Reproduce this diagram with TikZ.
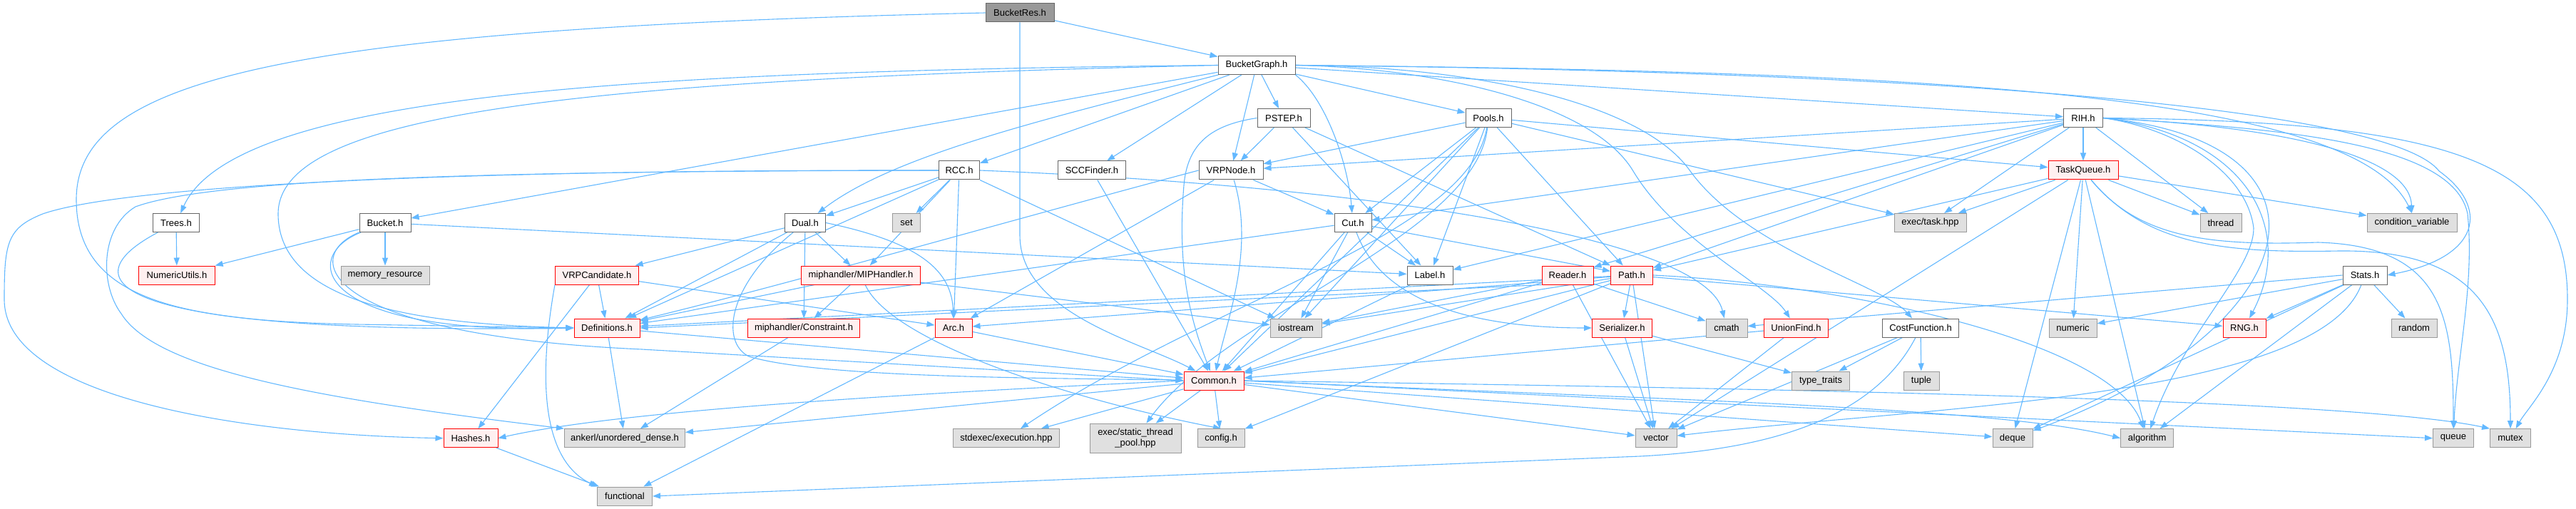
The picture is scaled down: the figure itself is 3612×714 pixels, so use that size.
\documentclass[tikz,border=0pt]{standalone}
\usepackage{fontspec}
\setmainfont{Liberation Sans}
\usetikzlibrary{arrows.meta}
\definecolor{edgec}{HTML}{63B8FF}
\definecolor{gfill}{HTML}{E0E0E0}
\definecolor{gborder}{HTML}{999999}
\definecolor{rfill}{HTML}{FFF0F0}
\definecolor{rborder}{HTML}{FF0000}
\definecolor{wborder}{HTML}{666666}
\definecolor{dfill}{HTML}{999999}
\newcommand{\nodefs}{\fontsize{13}{15}\selectfont}
\pgfdeclarelayer{bg}
\pgfsetlayers{bg,main}
\tikzset{
  base/.style={draw, minimum height=26pt, inner sep=0pt, font=\nodefs, line width=1pt},
  gn/.style={base, fill=gfill, draw=gborder},
  rn/.style={base, fill=rfill, draw=rborder},
  wn/.style={base, fill=white, draw=wborder},
  dn/.style={base, fill=dfill, draw=wborder},
  e/.style={draw=edgec, line width=1.1pt, -{Triangle[length=11pt,width=8pt]}}
}
\begin{document}
\begin{tikzpicture}[x=1pt,y=-1pt]
\path[use as bounding box] (0,0) rectangle (3612,714);
% rank 0-3
\node[dn, minimum width=96pt] (bres) at (1430,18) {BucketRes.h};
\node[wn, minimum width=108pt] (bgraph) at (1762,91.5) {BucketGraph.h};
\node[wn, minimum width=74pt] (pstep) at (1800,165.5) {PSTEP.h};
\node[wn, minimum width=64pt] (pools) at (2087,165.5) {Pools.h};
\node[wn, minimum width=55pt] (rih) at (2921,165.5) {RIH.h};
\node[wn, minimum width=57pt] (rcc) at (1345,239) {RCC.h};
\node[wn, minimum width=95pt] (scc) at (1531,239) {SCCFinder.h};
\node[wn, minimum width=90pt] (vrpnode) at (1726,239) {VRPNode.h};
\node[rn, minimum width=98pt] (taskq) at (2921,239) {TaskQueue.h};
% rank 4
\node[wn, minimum width=65pt] (trees) at (247,312.5) {Trees.h};
\node[wn, minimum width=72pt] (bucket) at (540,312.5) {Bucket.h};
\node[wn, minimum width=57pt] (dual) at (1129,312.5) {Dual.h};
\node[gn, minimum width=39pt] (set) at (1271,312.5) {set};
\node[wn, minimum width=52pt] (cut) at (1897,312.5) {Cut.h};
\node[gn, minimum width=101pt] (exectask) at (2706.5,312.5) {exec/task.hpp};
\node[gn, minimum width=58pt] (thread) at (3114,312.5) {thread};
\node[gn, minimum width=126pt] (condvar) at (3382,312.5) {condition\_variable};
% rank 5
\node[rn, minimum width=107pt] (numutils) at (248,386) {NumericUtils.h};
\node[gn, minimum width=124pt] (memres) at (540,386) {memory\_resource};
\node[rn, minimum width=117pt] (vrpcand) at (837,386) {VRPCandidate.h};
\node[rn, minimum width=167pt] (miph) at (1207,386) {miphandler/MIPHandler.h};
\node[wn, minimum width=64pt] (label) at (2005,386) {Label.h};
\node[rn, minimum width=72pt] (reader) at (2198,386) {Reader.h};
\node[rn, minimum width=59pt] (path) at (2288,386) {Path.h};
\node[wn, minimum width=62pt] (stats) at (3316,386) {Stats.h};
% rank 6
\node[rn, minimum width=92pt] (defs) at (851,460) {Definitions.h};
\node[rn, minimum width=157pt] (constr) at (1127,460) {miphandler/Constraint.h};
\node[rn, minimum width=52pt] (arc) at (1337,460) {Arc.h};
\node[gn, minimum width=72pt] (iostream) at (1817,460) {iostream};
\node[rn, minimum width=84pt] (serial) at (2274.5,460) {Serializer.h};
\node[gn, minimum width=58pt] (cmath) at (2421,460) {cmath};
\node[rn, minimum width=90pt] (unionf) at (2518.5,460) {UnionFind.h};
\node[wn, minimum width=107pt] (costf) at (2693,460) {CostFunction.h};
\node[gn, minimum width=67pt] (numeric) at (2906.5,460) {numeric};
\node[rn, minimum width=60pt] (rng) at (3147,460) {RNG.h};
\node[gn, minimum width=64pt] (random) at (3385,460) {random};
% rank 7
\node[rn, minimum width=84pt] (common) at (1702,534) {Common.h};
\node[gn, minimum width=81pt] (typetr) at (2553,534) {type\_traits};
\node[gn, minimum width=50pt] (tuple) at (2694,534) {tuple};
% rank 8
\node[rn, minimum width=76pt] (hashes) at (660,614.7) {Hashes.h};
\node[gn, minimum width=169pt] (ankerl) at (876,614.7) {ankerl/unordered\_dense.h};
\node[gn, minimum width=149pt] (stdexec) at (1411,614.7) {stdexec/execution.hpp};
\node[gn, minimum width=128pt, minimum height=41pt, align=center] (static) at (1592,614.7) {exec/static\_thread\\\_pool.hpp};
\node[gn, minimum width=66pt] (config) at (1712,614.7) {config.h};
\node[gn, minimum width=58pt] (vector) at (2322,614.7) {vector};
\node[gn, minimum width=56pt] (deque) at (2822,614.7) {deque};
\node[gn, minimum width=74pt] (algorithm) at (3010.6,614.7) {algorithm};
\node[gn, minimum width=57pt] (queue) at (3440,614.7) {queue};
\node[gn, minimum width=57pt] (mutex) at (3520,614.7) {mutex};
% rank 9
\node[gn, minimum width=77pt] (functional) at (876,696) {functional};

\begin{pgfonlayer}{bg}
% BucketRes
\draw[e] (bres) -- (bgraph);
\draw[e] (bres.west) .. controls (400,40) and (107,110) .. (107,280) .. controls (107,420) and (250,450) .. (500,455) -- (defs.west);
\draw[e] (bres.south) -- (1430,330) .. controls (1430,440) and (1600,480) .. (common);
% BucketGraph
\draw[e] (bgraph.west) .. controls (900,100) and (330,130) .. (trees);
\draw[e] (bgraph) -- (bucket);
\draw[e] (bgraph.west) .. controls (800,112) and (390,160) .. (390,300) .. controls (390,430) and (600,455) .. (defs.west);
\draw[e] (bgraph) -- (rcc);
\draw[e] (bgraph) .. controls (1450,170) and (1250,220) .. (dual);
\draw[e] (bgraph) -- (scc);
\draw[e] (bgraph) -- (vrpnode);
\draw[e] (bgraph) -- (pstep);
\draw[e] (bgraph) -- (pools);
\draw[e] (bgraph) -- (rih);
\draw[e] (bgraph.south east) .. controls (1860,140) and (1890,230) .. (cut);
\draw[e] (bgraph.east) .. controls (2700,100) and (3350,150) .. (3420,240) .. controls (3490,290) and (3480,360) .. (stats.east);
\draw[e] (bgraph.east) .. controls (2700,100) and (3300,130) .. (condvar.north);
\draw[e] (bgraph.east) .. controls (2000,95) and (2230,140) .. (2290,240) .. controls (2350,340) and (2480,400) .. (unionf);
\draw[e] (bgraph.east) .. controls (2050,92) and (2300,140) .. (2370,240) .. controls (2450,350) and (2640,400) .. (costf);
% PSTEP
\draw[e] (pstep) -- (vrpnode);
\draw[e] (pstep.west) .. controls (1700,175) and (1665,200) .. (1660,260) .. controls (1650,380) and (1670,450) .. (common);
\draw[e] (pstep) -- (label);
\draw[e] (pstep) -- (path);
% Pools
\draw[e] (pools) -- (vrpnode);
\draw[e] (pools) -- (taskq);
\draw[e] (pools) -- (label);
\draw[e] (pools) -- (path);
\draw[e] (pools) -- (cut);
\draw[e] (pools) -- (exectask);
\draw[e] (pools) -- (iostream);
\draw[e] (pools) .. controls (2060,330) and (1700,420) .. (stdexec);
\draw[e] (pools) .. controls (2070,330) and (1720,440) .. (static);
\draw[e] (pools) -- (common);
% RIH
\draw[e] (rih) -- (taskq);
\draw[e] (rih) -- (vrpnode);
\draw[e] (rih) -- (cut);
\draw[e] (rih) -- (label);
\draw[e] (rih) -- (path);
\draw[e] (rih) -- (reader);
\draw[e] (rih) -- (exectask);
\draw[e] (rih) -- (thread);
\draw[e] (rih.east) .. controls (3250,180) and (3380,230) .. (condvar);
\draw[e] (rih.east) .. controls (3150,190) and (3220,320) .. (rng);
\draw[e] (rih.east) .. controls (3050,180) and (3150,240) .. (3160,320) .. controls (3160,380) and (3060,470) .. (algorithm);
\draw[e] (rih.east) .. controls (3300,200) and (3240,460) .. (deque);
\draw[e] (rih.east) .. controls (3200,180) and (3440,200) .. (3460,300) .. controls (3470,400) and (3445,500) .. (queue);
\draw[e] (rih.east) .. controls (3450,170) and (3600,230) .. (3600,420) .. controls (3600,520) and (3545,570) .. (mutex);
% TaskQueue
\draw[e] (taskq) -- (exectask);
\draw[e] (taskq) -- (thread);
\draw[e] (taskq) -- (condvar);
\draw[e] (taskq) -- (numeric);
\draw[e] (taskq) -- (algorithm);
\draw[e] (taskq) -- (path);
\draw[e] (taskq) .. controls (3000,335) and (3100,345) .. (3250,340) .. controls (3430,345) and (3440,450) .. (queue);
\draw[e] (taskq) .. controls (3010,345) and (3120,355) .. (3280,352) .. controls (3480,350) and (3520,450) .. (mutex);
\draw[e] (taskq) -- (vector);
\draw[e] (taskq) -- (deque);
% Stats
\draw[e] (stats) -- (numeric);
\draw[e] (stats) -- (rng);
\draw[e] (stats) -- (random);
\draw[e] (stats.west) -- (cmath);
\draw[e] (stats) -- (algorithm);
\draw[e] (stats) -- (deque);
\draw[e] (stats) .. controls (3250,560) and (2700,570) .. (vector);
% CostFunction
\draw[e] (costf) -- (typetr);
\draw[e] (costf) -- (tuple);
\draw[e] (costf) -- (vector);
\draw[e] (costf) .. controls (2620,600) and (2450,632) .. (2300,640) -- (functional.east);
% UnionFind
\draw[e] (unionf) -- (vector);
\draw[e] (unionf) -- (common);
% Serializer
\draw[e] (serial) -- (typetr);
\draw[e] (serial) -- (vector);
% Path
\draw[e] (path) -- (serial);
\draw[e] (path) -- (iostream);
\draw[e] (path) -- (defs);
\draw[e] (path) -- (common);
\draw[e] (path) -- (vector);
\draw[e] (path) -- (rng);
\draw[e] (path.east) .. controls (2600,400) and (2960,480) .. (algorithm);
\draw[e] (path) -- (arc);
\draw[e] (path) -- (config);
% Reader
\draw[e] (reader) -- (iostream);
\draw[e] (reader.south west) -- (defs.east);
\draw[e] (reader) -- (cmath);
\draw[e] (reader) -- (vector);
\draw[e] (reader) -- (common);
% Label
\draw[e] (label) -- (common);
% Cut
\draw[e] (cut) -- (label);
\draw[e] (cut) -- (path);
\draw[e] (cut) -- (defs);
\draw[e] (cut) -- (common);
\draw[e] (cut) .. controls (1940,430) and (2080,460) .. (serial.west);
\draw[e] (cut) -- (iostream);
% VRPNode
\draw[e] (vrpnode) -- (cut);
\draw[e] (vrpnode) -- (arc);
\draw[e] (vrpnode) .. controls (1760,350) and (1720,450) .. (common);
\draw[e] (vrpnode.west) .. controls (1450,300) and (1100,400) .. (defs);
% SCCFinder
\draw[e] (scc) -- (common);
% RCC
\draw[e] (rcc) -- (dual);
\draw[e] (rcc) -- (set);
\draw[e] (rcc) -- (miph);
\draw[e] (rcc) -- (arc);
\draw[e] (rcc) -- (defs);
\draw[e] (rcc) -- (iostream);
\draw[e] (rcc.west) .. controls (600,238) and (170,262) .. (60,300) .. controls (10,320) and (6,340) .. (6,420) .. controls (6,560) and (350,610) .. (hashes.west);
\draw[e] (rcc.west) .. controls (700,240) and (300,250) .. (190,290) .. controls (140,320) and (140,400) .. (170,440) .. controls (220,520) and (450,560) .. (ankerl.north west);
\draw[e] (rcc.east) .. controls (1900,260) and (2390,330) .. (cmath);
% Dual
\draw[e] (dual) -- (vrpcand);
\draw[e] (dual) -- (miph);
\draw[e] (dual) -- (constr);
\draw[e] (dual.east) .. controls (1290,340) and (1335,380) .. (arc);
\draw[e] (dual) -- (defs);
\draw[e] (dual) .. controls (1020,400) and (1010,480) .. (1050,500) .. controls (1150,530) and (1450,530) .. (common);
% MIPHandler
\draw[e] (miph) -- (constr);
\draw[e] (miph) -- (iostream);
\draw[e] (miph) -- (defs);
\draw[e] (miph) .. controls (1250,480) and (1500,560) .. (config.north);
% Constraint
\draw[e] (constr) -- (ankerl);
% VRPCandidate
\draw[e] (vrpcand) -- (defs);
\draw[e] (vrpcand) -- (hashes);
\draw[e] (vrpcand) -- (arc);
\draw[e] (vrpcand.south west) .. controls (760,500) and (750,640) .. (functional.north west);
% Arc
\draw[e] (arc) -- (common);
\draw[e] (arc) -- (functional);
% Trees
\draw[e] (trees) -- (numutils);
\draw[e] (trees) .. controls (100,390) and (130,470) .. (defs.west);
% Bucket
\draw[e] (bucket) -- (numutils);
\draw[e] (bucket) -- (memres);
\draw[e] (bucket) .. controls (420,360) and (440,470) .. (defs.west);
\draw[e] (bucket) -- (label);
\draw[e] (bucket.south west) .. controls (420,360) and (450,470) .. (900,490) -- (common.west);
% Definitions
\draw[e] (defs) -- (ankerl);
\draw[e] (defs) -- (common);
% Hashes
\draw[e] (hashes) -- (functional);
% Common
\draw[e] (common.west) .. controls (1200,555) and (850,580) .. (hashes.east);
\draw[e] (common) -- (ankerl);
\draw[e] (common) -- (stdexec);
\draw[e] (common) -- (static);
\draw[e] (common) -- (config);
\draw[e] (common) -- (vector);
\draw[e] (common) -- (deque);
\draw[e] (common.east) .. controls (2300,560) and (2800,570) .. (algorithm.west);
\draw[e] (common.east) -- (queue.west);
\draw[e] (common.east) .. controls (2500,545) and (3300,560) .. (mutex.north west);
\end{pgfonlayer}
\end{tikzpicture}
\end{document}
